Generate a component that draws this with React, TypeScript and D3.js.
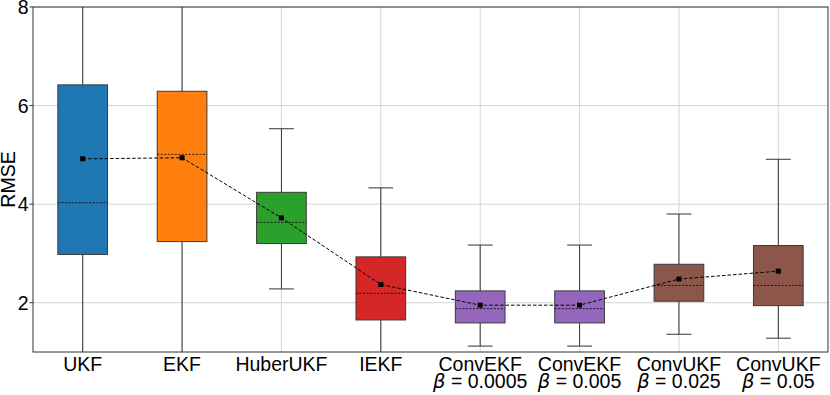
import React from 'react'
import * as d3 from 'd3'

// filters and their settings (second label line)
const names = ['UKF', 'EKF', 'HuberUKF', 'IEKF', 'ConvEKF', 'ConvEKF', 'ConvUKF', 'ConvUKF']
const betas = ['', '', '', '', '0.0005', '0.005', '0.025', '0.05']
const colors = ['#1f77b4', '#ff7f0e', '#2ca02c', '#d62728', '#9467bd', '#9467bd', '#8c564b', '#8c564b']

// box statistics
const whiskerLow = [0.9, 0.9, 2.28, 0.9, 1.12, 1.12, 1.36, 1.28]
const q1 = [2.98, 3.24, 3.2, 1.65, 1.59, 1.59, 2.03, 1.94]
const median = [4.03, 5.01, 3.63, 2.19, 1.88, 1.88, 2.35, 2.35]
const q3 = [6.42, 6.29, 4.24, 2.93, 2.24, 2.24, 2.78, 3.16]
const whiskerHigh = [9, 9, 5.53, 4.33, 3.17, 3.17, 3.8, 4.91]
const mean = [4.92, 4.94, 3.72, 2.37, 1.95, 1.95, 2.48, 2.64]

const yTicks = [2, 4, 6, 8]

const W = 830
const H = 395
const margin = { top: 7, right: 2, bottom: 43, left: 33 }
const FONT = '"Liberation Sans", Arial, sans-serif'
const FS = 19.5

export default function App() {
  const innerW = W - margin.left - margin.right
  const innerH = H - margin.top - margin.bottom
  const keys = names.map((_, i) => String(i))

  const x = d3.scalePoint<string>().domain(keys).range([0, innerW]).padding(0.5)
  const y = d3.scaleLinear().domain([1, 8]).range([innerH, 0])
  const step = x.step()
  const boxW = step * 0.5
  const capW = boxW * 0.5

  const meanLine = d3
    .line<number>()
    .x((_, i) => x(keys[i]) as number)
    .y(d => y(d))

  return (
    <svg width={W} height={H} style={{ position: 'absolute', left: 0, top: 0, background: '#fff' }}>
      <defs>
        <clipPath id="plot">
          <rect x={0} y={0} width={innerW} height={innerH} />
        </clipPath>
      </defs>
      <g transform={`translate(${margin.left},${margin.top})`}>
        {/* grid */}
        {yTicks.map(t => (
          <line key={'gy' + t} x1={0} x2={innerW} y1={y(t)} y2={y(t)} stroke="#d4d4d4" strokeWidth={1} />
        ))}
        {keys.map(k => (
          <line key={'gx' + k} x1={x(k)} x2={x(k)} y1={0} y2={innerH} stroke="#d4d4d4" strokeWidth={1} />
        ))}

        <g clipPath="url(#plot)">
          {keys.map((k, i) => {
            const cx = x(k) as number
            return (
              <g key={'b' + k}>
                <line x1={cx} x2={cx} y1={y(whiskerHigh[i])} y2={y(q3[i])} stroke="#333" strokeWidth={1} />
                <line x1={cx} x2={cx} y1={y(q1[i])} y2={y(whiskerLow[i])} stroke="#333" strokeWidth={1} />
                <line x1={cx - capW / 2} x2={cx + capW / 2} y1={y(whiskerHigh[i])} y2={y(whiskerHigh[i])} stroke="#333" strokeWidth={1} />
                <line x1={cx - capW / 2} x2={cx + capW / 2} y1={y(whiskerLow[i])} y2={y(whiskerLow[i])} stroke="#333" strokeWidth={1} />
                <rect
                  x={cx - boxW / 2}
                  y={y(q3[i])}
                  width={boxW}
                  height={y(q1[i]) - y(q3[i])}
                  fill={colors[i]}
                  stroke="#3a3a3a"
                  strokeWidth={1}
                />
                <line
                  x1={cx - boxW / 2}
                  x2={cx + boxW / 2}
                  y1={y(median[i])}
                  y2={y(median[i])}
                  stroke="#111"
                  strokeWidth={0.9}
                  strokeDasharray="2,1.5"
                />
              </g>
            )
          })}

          <path d={meanLine(mean) || ''} fill="none" stroke="#000" strokeWidth={1} strokeDasharray="3.5,2" />
          {keys.map((k, i) => (
            <rect key={'m' + k} x={(x(k) as number) - 2.5} y={y(mean[i]) - 2.5} width={5} height={5} fill="#000" />
          ))}
        </g>

        {/* spines */}
        <rect x={0} y={0} width={innerW} height={innerH} fill="none" stroke="#333" strokeWidth={1} />

        {/* y axis */}
        {yTicks.map(t => (
          <g key={'ty' + t}>
            <line x1={-3.5} x2={0} y1={y(t)} y2={y(t)} stroke="#333" strokeWidth={1} />
            <text x={-4.5} y={y(t)} dy="0.36em" textAnchor="end" fontFamily={FONT} fontSize={FS} fill="#000">
              {t}
            </text>
          </g>
        ))}
        <text
          transform={`translate(${-18.5},${innerH / 2}) rotate(-90)`}
          textAnchor="middle"
          fontFamily={FONT}
          fontSize={FS}
          fill="#000"
        >
          RMSE
        </text>

        {/* x labels */}
        {keys.map((k, i) => (
          <text key={'tx' + k} x={x(k)} y={innerH + 19} textAnchor="middle" fontFamily={FONT} fontSize={FS} fill="#000">
            <tspan x={x(k)}>{names[i]}</tspan>
            {betas[i] && (
              <tspan x={x(k)} dy={17}>
                <tspan fontFamily='"DejaVu Sans", sans-serif' fontStyle="italic">β</tspan>
                {' = ' + betas[i]}
              </tspan>
            )}
          </text>
        ))}
      </g>
    </svg>
  )
}
